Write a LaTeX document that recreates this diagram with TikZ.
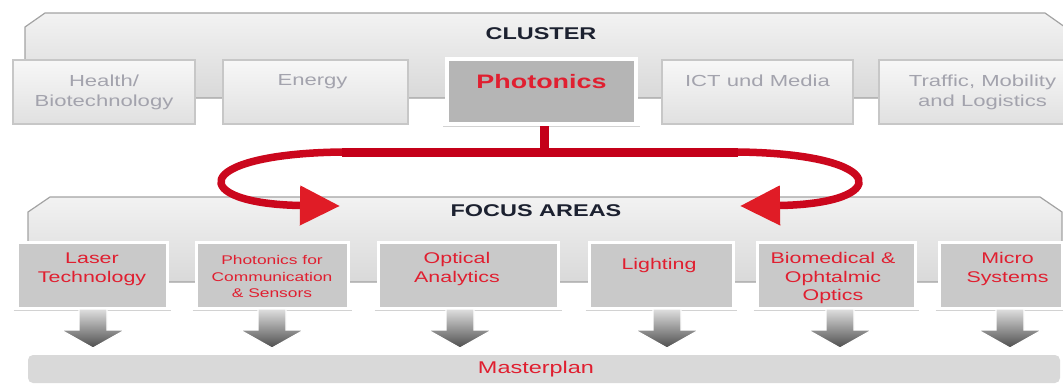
\documentclass[tikz,border=0pt]{standalone}
\usepackage{fontspec}
\setmainfont{Liberation Sans}[FakeStretch=1.38]
\usepackage{tikz}
\usetikzlibrary{positioning, calc, arrows.meta, shapes}
\definecolor{paneltop}{rgb}{0.95, 0.95, 0.95}
\definecolor{panelbot}{rgb}{0.85, 0.85, 0.85}
\definecolor{panelline}{rgb}{0.64, 0.64, 0.64}
\definecolor{clline}{rgb}{0.78, 0.78, 0.78}
\definecolor{cltop}{rgb}{0.97, 0.97, 0.97}
\definecolor{clbot}{rgb}{0.88, 0.88, 0.88}
\definecolor{clgray}{rgb}{0.64, 0.64, 0.68}
\definecolor{phgray}{rgb}{0.71, 0.71, 0.71}
\definecolor{fagray}{rgb}{0.79, 0.79, 0.79}
\definecolor{mpgray}{rgb}{0.85, 0.85, 0.85}
\definecolor{headblue}{rgb}{0.11, 0.13, 0.19}
\definecolor{fared}{rgb}{0.88, 0.12, 0.19}
\definecolor{barred}{rgb}{0.77, 0.0, 0.10}
\definecolor{tipred}{rgb}{0.88, 0.11, 0.15}

\begin{document}
\begin{tikzpicture}[x=1pt, y=-1pt]
\useasboundingbox (0,0) rectangle (1063,386);
\tikzstyle{panel}=[draw=panelline, line width=1.2pt, top color=paneltop, bottom color=panelbot]
\tikzstyle{clbox}=[draw=clline, line width=1.5pt, top color=cltop, bottom color=clbot, inner sep=0, minimum height=64pt]
\tikzstyle{cltext}=[anchor=north, inner sep=0, align=center, text=clgray, font=\fontsize{16}{20}\selectfont]
\tikzstyle{fabox}=[draw=white, line width=3pt, fill=fagray, inner sep=0, minimum height=66pt]
\tikzstyle{fatext}=[anchor=north, inner sep=0, align=center, text=fared, font=\fontsize{15.5}{19}\selectfont]
\tikzstyle{headtext}=[inner sep=0, text=headblue, font=\fontsize{17}{20}\selectfont\bfseries]
\tikzstyle{redbar}=[draw=barred, line width=9pt]
\tikzstyle{redcurve}=[draw=barred!75!tipred, line width=7.5pt, -{Triangle[length=40pt, width=38pt, color=tipred]}]
\tikzstyle{downarrow}=[draw=white, line width=1.2pt, top color=gray!25, bottom color=black!70]
%%
%% the two panels
\path[panel] (25,98) -- (25,27) -- (45,13) -- (1045,13) -- (1072,32) -- (1072,98) -- cycle;
\path[panel] (28,282) -- (28,212) -- (50,197) -- (1040,197) -- (1062,212) -- (1062,282) -- cycle;

\node (clh) at (541,34) [headtext] {CLUSTER};
\node (fah) at (536,211) [headtext] {FOCUS AREAS};

%% cluster
\node (hb) at (104,92) [clbox, minimum width=182pt, label={[cltext, yshift=-15pt]north:Health/\\Biotechnology}] {};
\node (en) at (315.5,92) [clbox, minimum width=185pt, label={[cltext, yshift=-15pt, xshift=-3pt]north:Energy}] {};
\node (ph) at (541.5,91.5) [draw=white, line width=4pt, fill=phgray, inner sep=0, minimum width=189pt, minimum height=65pt,
  label={[anchor=north, inner sep=0, text=fared, font=\fontsize{19.5}{22}\selectfont\bfseries, yshift=-17pt]north:Photonics}] {};
\node (ict) at (757.5,92) [clbox, minimum width=191pt, label={[cltext, yshift=-15pt]north:ICT und Media}] {};
\node (tr) at (984.5,92) [clbox, minimum width=211pt, label={[cltext, yshift=-15pt, xshift=-2pt]north:Traffic, Mobility\\and Logistics}] {};

%% focus areas
\node (la) at (92,275) [fabox, minimum width=150pt, label={[fatext, yshift=-12pt]north:Laser\\Technology}] {};
\node (pc) at (272,275) [fabox, minimum width=152pt, label={[fatext, font=\fontsize{12.6}{16.5}\selectfont, yshift=-15pt]north:Photonics for\\Communication\\\& Sensors}] {};
\node (oa) at (468,275) [fabox, minimum width=180pt, label={[fatext, yshift=-12pt, xshift=-11pt]north:Optical\\Analytics}] {};
\node (li) at (661,275) [fabox, minimum width=144pt, label={[fatext, yshift=-18pt, xshift=-2pt]north:Lighting}] {};
\node (bo) at (836,275) [fabox, minimum width=158pt, label={[fatext, font=\fontsize{15.5}{18.5}\selectfont, yshift=-12pt, xshift=-3pt]north:Biomedical \&\\Ophtalmic\\Optics}] {};
\node (ms) at (1000.5,275) [fabox, minimum width=123pt, label={[fatext, yshift=-12pt, xshift=7pt]north:Micro\\Systems}] {};

%% shadow lines under the framed boxes
\foreach \b in {ph, la, pc, oa, li, bo, ms}
  \draw[gray!35, line width=1pt] ([xshift=-2pt, yshift=-0.5pt]\b.south west) -- ([xshift=2pt, yshift=-0.5pt]\b.south east);

%% masterplan
\node (mp) at (544,369) [fill=mpgray, rounded corners=5pt, inner sep=0, minimum width=1032pt, minimum height=28pt,
  label={[inner sep=0, text=fared, font=\fontsize{17}{20}\selectfont, xshift=-8pt]center:Masterplan}] {};

\foreach \x in {93, 272, 460, 667, 840, 1010}
  \path[downarrow] (\x-14,309) -- (\x+14,309) -- (\x+14,330) -- (\x+32,330) -- (\x,348) -- (\x-32,330) -- (\x-14,330) -- cycle;

%% red connector
\coordinate (jn) at (544,152);
\coordinate (lb) at (342,152);
\coordinate (rb) at (738,152);
\coordinate (lt) at (340,206);
\coordinate (rt) at (740,206);
\draw[redbar] (jn |- ph.south) -- (jn);
\draw[redbar] (lb) -- (rb);
\draw[redcurve] (lb) .. controls (188,154) and (188,204) .. (lt);
\draw[redcurve] (rb) .. controls (892,154) and (892,204) .. (rt);

\end{tikzpicture}
\end{document}
